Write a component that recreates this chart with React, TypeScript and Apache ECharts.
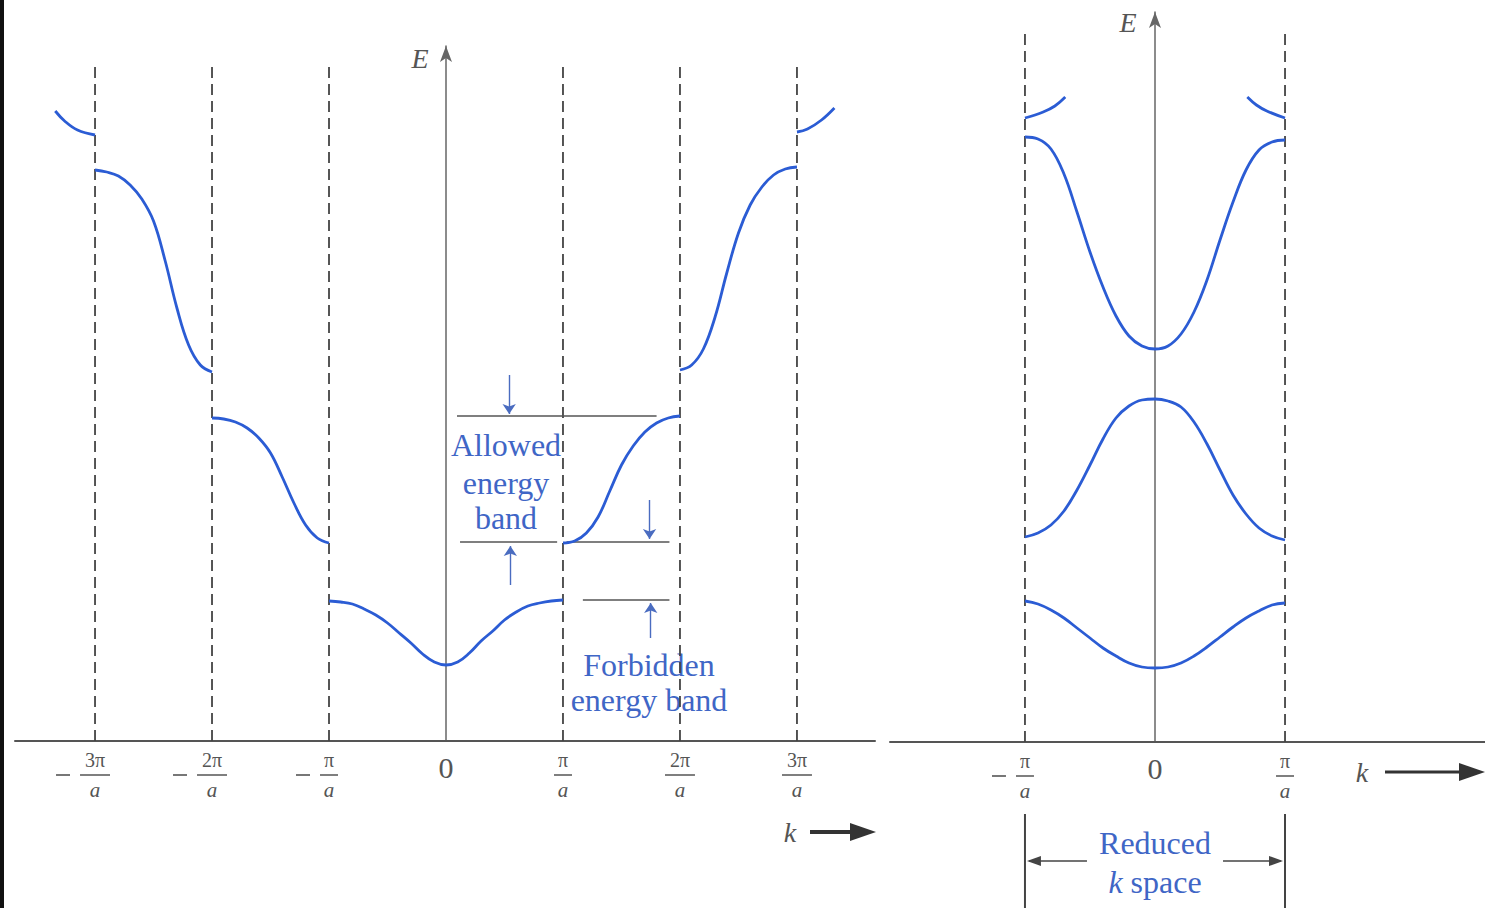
import React, { useEffect, useRef } from 'react';
import * as echarts from 'echarts';

// ---------- data (k in units of pi/a, E in arbitrary energy units) ----------
const leftTicks = [-3, -2, -1, 0, 1, 2, 3];
const rightTicks = [-1, 0, 1];
const leftBoundaries = [-3, -2, -1, 1, 2, 3];
const rightBoundaries = [-1, 1];
const leftDashTop = 6.79;
const rightDashTop = 7.12;

// Extended zone scheme (left panel)
const extBand1 = [
  [-1.0, 1.40], [-0.9, 1.39], [-0.8, 1.37], [-0.7, 1.32], [-0.6, 1.26], [-0.5, 1.18], [-0.4, 1.08],
  [-0.3, 0.98], [-0.2, 0.87], [-0.1, 0.79], [0, 0.76], [0.1, 0.79], [0.2, 0.88], [0.3, 1.0],
  [0.4, 1.1], [0.5, 1.21], [0.6, 1.29], [0.7, 1.35], [0.8, 1.38], [0.9, 1.40], [1.0, 1.41],
];
const extBand2Right = [
  [1.0, 1.98], [1.1, 2.0], [1.2, 2.08], [1.3, 2.24], [1.4, 2.5], [1.5, 2.76], [1.6, 2.95],
  [1.7, 3.09], [1.8, 3.18], [1.9, 3.23], [2.0, 3.25],
];
const extBand2Left = [
  [-2.0, 3.23], [-1.9, 3.22], [-1.8, 3.19], [-1.7, 3.13], [-1.6, 3.03], [-1.5, 2.88], [-1.4, 2.64],
  [-1.3, 2.38], [-1.2, 2.16], [-1.1, 2.03], [-1.0, 1.98],
];
const extBand3Right = [
  [2.0, 3.71], [2.1, 3.76], [2.2, 3.92], [2.3, 4.24], [2.4, 4.68], [2.5, 5.08], [2.6, 5.36],
  [2.7, 5.54], [2.8, 5.66], [2.9, 5.72], [3.0, 5.74],
];
const extBand3Left = [
  [-3.0, 5.71], [-2.9, 5.69], [-2.8, 5.65], [-2.7, 5.56], [-2.6, 5.42], [-2.5, 5.2], [-2.4, 4.8],
  [-2.3, 4.33], [-2.2, 3.96], [-2.1, 3.76], [-2.0, 3.69],
];
const extBand4Right = [[3.0, 6.09], [3.09, 6.12], [3.21, 6.21], [3.32, 6.33]];
const extBand4Left = [[-3.34, 6.3], [-3.26, 6.2], [-3.15, 6.11], [-3.0, 6.06]];

// Reduced zone scheme (right panel)
const redBand1 = [
  [-1, 1.41], [-0.9, 1.38], [-0.8, 1.32], [-0.7, 1.24], [-0.6, 1.14], [-0.5, 1.04], [-0.4, 0.94],
  [-0.3, 0.86], [-0.2, 0.79], [-0.1, 0.75], [0, 0.74], [0.1, 0.75], [0.2, 0.79], [0.3, 0.86],
  [0.4, 0.95], [0.5, 1.05], [0.6, 1.15], [0.7, 1.24], [0.8, 1.31], [0.9, 1.37], [1, 1.39],
];
const redBand2 = [
  [-1, 2.05], [-0.9, 2.09], [-0.8, 2.17], [-0.7, 2.31], [-0.6, 2.52], [-0.5, 2.77], [-0.4, 3.03],
  [-0.3, 3.24], [-0.2, 3.36], [-0.1, 3.42], [0, 3.43], [0.1, 3.41], [0.2, 3.35], [0.3, 3.2],
  [0.4, 2.98], [0.5, 2.72], [0.6, 2.47], [0.7, 2.28], [0.8, 2.14], [0.9, 2.06], [1, 2.02],
];
const redBand3 = [
  [-1, 6.05], [-0.9, 6.03], [-0.8, 5.93], [-0.7, 5.68], [-0.6, 5.3], [-0.5, 4.9], [-0.4, 4.55],
  [-0.3, 4.26], [-0.2, 4.06], [-0.1, 3.96], [0, 3.93], [0.1, 3.96], [0.2, 4.08], [0.3, 4.3],
  [0.4, 4.62], [0.5, 5.02], [0.6, 5.4], [0.7, 5.72], [0.8, 5.92], [0.9, 6.0], [1, 6.02],
];
const redBand4Left = [[-1, 6.24], [-0.86, 6.3], [-0.77, 6.36], [-0.69, 6.45]];
const redBand4Right = [[0.71, 6.45], [0.78, 6.37], [0.86, 6.31], [1, 6.24]];

// Annotation guide lines (left panel)
const guideLines = [
  [[0.094, 3.25], [1.8, 3.25]],
  [[0.12, 1.99], [0.95, 1.99]],
  [[1.03, 1.99], [1.91, 1.99]],
  [[1.17, 1.41], [1.91, 1.41]],
];
// Arrows: [k, fromE, toE]
const guideArrows = [
  [0.54, 3.66, 3.27],
  [0.55, 1.56, 1.95],
  [1.74, 2.41, 2.02],
  [1.75, 1.03, 1.38],
];

const BLUE = '#2b5cd4';
const TEXT_BLUE = '#3f66c6';
const SERIF = "'Liberation Serif', 'Times New Roman', serif";

function fracLabel(v: number): string {
  if (v === 0) return '{z|0}';
  const a = Math.abs(v);
  const num = a === 1 ? 'π' : a + 'π';
  const bar = a === 1 ? 'b1' : 'b2';
  if (v < 0) return `{n|${num}}\n{m| }{sp| }{${bar}| }{sp| }{mh| }\n{d|a}`;
  return `{n|${num}}\n{${bar}| }\n{d|a}`;
}

const rich = {
  z: { fontFamily: SERIF, fontSize: 30, lineHeight: 32, color: '#555', align: 'center' },
  n: { fontFamily: SERIF, fontSize: 20, lineHeight: 18, color: '#555', align: 'center' },
  d: { fontFamily: SERIF, fontSize: 21, fontStyle: 'italic', lineHeight: 18, color: '#555', align: 'center' },
  m: { width: 14, height: 1.6, lineHeight: 12, backgroundColor: '#555', align: 'center', fontSize: 2 },
  mh: { width: 14, height: 1.6, lineHeight: 12, align: 'center', fontSize: 2 },
  sp: { width: 10, height: 2, lineHeight: 12, align: 'center', fontSize: 2 },
  b1: { width: 18, height: 1.5, lineHeight: 12, backgroundColor: '#555', align: 'center', fontSize: 2 },
  b2: { width: 30, height: 1.5, lineHeight: 12, backgroundColor: '#555', align: 'center', fontSize: 2 },
};

function bandSeries(data: number[][], idx: number) {
  return {
    type: 'line', xAxisIndex: idx, yAxisIndex: idx, data, smooth: 0.4, showSymbol: false, silent: true, z: 4,
    lineStyle: { color: BLUE, width: 2.8 },
  };
}
function dashSeries(b: number, top: number, idx: number) {
  return {
    type: 'line', xAxisIndex: idx, yAxisIndex: idx, data: [[b, 0], [b, top]], showSymbol: false, silent: true, z: 2,
    lineStyle: { color: '#444', width: 1.8, type: [11, 6] },
  };
}

export default function App() {
  const ref = useRef<HTMLDivElement>(null);
  useEffect(() => {
    if (!ref.current) return;
    const chart = echarts.init(ref.current, null, { renderer: 'svg' });
    const xAxisCommon = (idx: number, min: number, max: number, ticks: number[]) => ({
      type: 'value', gridIndex: idx, min, max,
      axisLine: { onZero: true, lineStyle: { color: '#555', width: 2 } },
      axisTick: { show: false }, splitLine: { show: false },
      axisLabel: { customValues: ticks, formatter: fracLabel, margin: 10, rich },
    });
    const yAxisCommon = (idx: number, max: number) => ({
      type: 'value', gridIndex: idx, min: 0, max,
      axisLine: { show: true, onZero: true, symbol: ['none', 'arrow'], symbolSize: [9, 16], lineStyle: { color: '#666', width: 1.5 } },
      axisTick: { show: false }, axisLabel: { show: false }, splitLine: { show: false },
    });

    const series: any[] = [];
    leftBoundaries.forEach((b) => series.push(dashSeries(b, leftDashTop, 0)));
    rightBoundaries.forEach((b) => series.push(dashSeries(b, rightDashTop, 1)));
    [extBand1, extBand2Right, extBand2Left, extBand3Right, extBand3Left, extBand4Right, extBand4Left].forEach((d) =>
      series.push(bandSeries(d, 0)));
    [redBand1, redBand2, redBand3, redBand4Left, redBand4Right].forEach((d) => series.push(bandSeries(d, 1)));
    guideLines.forEach((d, i) =>
      series.push({
        type: 'line', xAxisIndex: 0, yAxisIndex: 0, data: d, showSymbol: false, silent: true, z: 3,
        lineStyle: { color: '#555', width: 1.5 },
        markLine: i === 0 ? {
          silent: true, symbol: ['none', 'arrow'], symbolSize: 10, label: { show: false },
          lineStyle: { color: '#4a6cc0', width: 1.4, type: 'solid' },
          data: guideArrows.map((a) => [{ coord: [a[0], a[1]] }, { coord: [a[0], a[2]] }]),
        } : undefined,
      }));

    chart.setOption({
      animation: false,
      backgroundColor: '#ffffff',
      grid: [
        { left: 15, top: 46, width: 860, height: 695 },
        { left: 890, top: 12, width: 595, height: 730 },
      ],
      xAxis: [xAxisCommon(0, -3.684, 3.667, leftTicks), xAxisCommon(1, -2.038, 2.538, rightTicks)],
      yAxis: [yAxisCommon(0, 6.95), yAxisCommon(1, 7.3)],
      series,
    });

    const pL = chart.convertToPixel({ gridIndex: 1 }, [-1, 0]) as number[];
    const pR = chart.convertToPixel({ gridIndex: 1 }, [1, 0]) as number[];
    const xl = pL[0];
    const xr = pR[0];
    const txt = (text: string, x: number, y: number, size: number, fill: string, italic = false) => ({
      type: 'text', x, y, silent: true,
      style: { text, font: `${italic ? 'italic ' : ''}${size}px ${SERIF}`, fill, align: 'center', verticalAlign: 'middle' },
    });
    chart.setOption({
      graphic: [
        { type: 'rect', shape: { x: 0, y: 0, width: 4, height: 908 }, style: { fill: '#111' }, silent: true },
        txt('E', 420, 58, 28, '#555', true),
        txt('E', 1128, 22, 28, '#555', true),
        txt('Allowed', 506, 445, 32, TEXT_BLUE),
        txt('energy', 506, 483, 32, TEXT_BLUE),
        txt('band', 506, 518, 32, TEXT_BLUE),
        txt('Forbidden', 649, 665, 32, TEXT_BLUE),
        txt('energy band', 649, 700, 32, TEXT_BLUE),
        txt('Reduced', 1155, 843, 32, TEXT_BLUE),
        {
          type: 'text', x: 1155, y: 882, silent: true,
          style: {
            text: '{i|k} space', align: 'center', verticalAlign: 'middle', fill: TEXT_BLUE,
            font: `32px ${SERIF}`,
            rich: { i: { fontStyle: 'italic', fontFamily: SERIF, fontSize: 32, fill: TEXT_BLUE } },
          },
        },
        txt('k', 790, 832, 28, '#555', true),
        { type: 'line', shape: { x1: 810, y1: 832, x2: 856, y2: 832 }, style: { stroke: '#333', lineWidth: 4 }, silent: true },
        { type: 'polygon', shape: { points: [[850, 823], [876, 832], [850, 841]] }, style: { fill: '#333' }, silent: true },
        txt('k', 1362, 772, 28, '#555', true),
        { type: 'line', shape: { x1: 1385, y1: 772, x2: 1466, y2: 772 }, style: { stroke: '#333', lineWidth: 3 }, silent: true },
        { type: 'polygon', shape: { points: [[1459, 763], [1485, 772], [1459, 781]] }, style: { fill: '#333' }, silent: true },
        { type: 'line', shape: { x1: xl, y1: 814, x2: xl, y2: 908 }, style: { stroke: '#444', lineWidth: 2 }, silent: true },
        { type: 'line', shape: { x1: xr, y1: 814, x2: xr, y2: 908 }, style: { stroke: '#444', lineWidth: 2 }, silent: true },
        { type: 'line', shape: { x1: xl + 4, y1: 861, x2: xl + 62, y2: 861 }, style: { stroke: '#444', lineWidth: 1.6 }, silent: true },
        { type: 'polygon', shape: { points: [[xl + 2, 861], [xl + 16, 856], [xl + 16, 866]] }, style: { fill: '#444' }, silent: true },
        { type: 'line', shape: { x1: xr - 62, y1: 861, x2: xr - 4, y2: 861 }, style: { stroke: '#444', lineWidth: 1.6 }, silent: true },
        { type: 'polygon', shape: { points: [[xr - 2, 861], [xr - 16, 856], [xr - 16, 866]] }, style: { fill: '#444' }, silent: true },
      ],
    });
    return () => chart.dispose();
  }, []);
  return <div ref={ref} style={{ position: 'fixed', left: 0, top: 0, width: 1485, height: 908, background: '#fff' }} />;
}
